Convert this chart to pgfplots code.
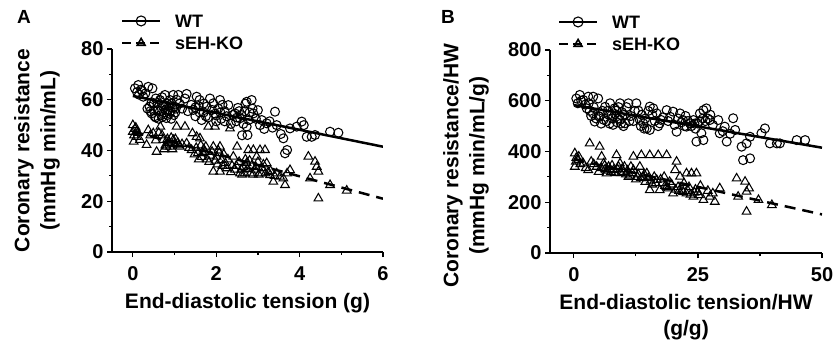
\documentclass[border=0pt]{standalone}
\usepackage{fontspec}
\setmainfont{Liberation Sans}
\usepackage{pgfplots}
\pgfplotsset{compat=1.18}
\pgfplotsset{
  panel/.style={
    scale only axis, height=203pt,
    axis lines=left, axis line style={-, line width=1.2pt},
    tick align=outside, major tick length=5pt, minor tick length=3pt,
    tick style={line width=1.2pt, black},
    tick label style={font=\fontsize{20}{20}\selectfont\bfseries},
    xticklabel style={yshift=-6pt},
    /pgf/number format/assume math mode=true,
    label style={font=\fontsize{21}{26}\selectfont\bfseries, align=center},
    legend style={draw=none, fill=none, inner sep=0pt, anchor=west,
      font=\fontsize{18}{18}\selectfont\bfseries,
      nodes={inner sep=0pt, text height=13pt, text depth=0pt},
      row sep=9pt,
      /tikz/every odd column/.append style={column sep=14pt}},
    legend cell align=left,
    legend image code/.code={
      \draw[##1, mark=none] (0pt,0pt) -- (38pt,0pt);
      \draw[##1, solid] plot coordinates {(19pt,0pt)};
    },
  },
  wt/.style={only marks, mark=o, mark size=4.5pt, mark options={line width=1.05pt, black}},
  ko/.style={only marks, mark=triangle, mark size=5pt, mark options={line width=1.05pt, black}},
}
\begin{document}
\begin{tikzpicture}
\useasboundingbox (0,0) rectangle (833pt,343pt);
\node[font=\fontsize{19}{19}\selectfont\bfseries] at (24pt,326pt) {A};
\node[font=\fontsize{19}{19}\selectfont\bfseries] at (448pt,326pt) {B};

\begin{axis}[panel, at={(112pt,91pt)}, anchor=south west, width=271pt,
  xmin=-0.5, xmax=6, ymin=0, ymax=80,
  xtick={0,2,4,6}, minor xtick={1,3,5},
  ytick={0,20,40,60,80}, minor ytick={10,30,50,70},
  xlabel={End-diastolic tension (g)},
  ylabel={Coronary resistance\\(mmHg min/mL)},
  xlabel style={at={(axis description cs:0.5,-0.187)}, anchor=north},
  ylabel style={at={(axis description cs:-0.277,0.5)}, anchor=center},
  legend style={at={(axis description cs:0.033,1.084)}},
]
\addlegendimage{black, line width=2pt, mark=o, mark size=5pt, mark options={line width=1.1pt, fill=white}}
\addlegendentry{WT}
\addlegendimage{black, line width=2pt, dash pattern=on 9pt off 5pt, mark=triangle, mark size=4.5pt, mark options={line width=1.6pt, fill=white}}
\addlegendentry{sEH-KO}
\addplot[wt, forget plot] table {
x y
0.05 64.5
0.10 63.0
0.13 65.8
0.15 62.0
0.20 64.0
0.22 63.5
0.25 61.2
0.30 62.5
0.35 56.5
0.37 65.1
0.40 57.3
0.42 55.5
0.45 54.6
0.45 59.0
0.47 64.5
0.50 58.5
0.50 55.8
0.52 53.5
0.55 60.5
0.55 53.0
0.60 56.0
0.60 58.8
0.62 52.5
0.65 59.9
0.65 55.5
0.68 54.0
0.70 61.0
0.70 53.2
0.72 57.5
0.75 55.0
0.75 58.0
0.77 61.9
0.78 56.0
0.80 52.8
0.82 58.5
0.83 54.0
0.85 56.0
0.87 57.8
0.88 54.5
0.89 59.9
0.90 55.5
0.92 52.5
0.93 58.5
0.95 57.0
0.97 61.9
0.98 54.0
1.00 57.3
1.02 55.0
1.03 56.5
1.05 60.0
1.09 61.9
1.12 58.5
1.18 56.5
1.25 60.5
1.29 62.3
1.32 55.5
1.40 58.0
1.45 56.0
1.50 53.5
1.50 57.0
1.53 61.2
1.58 57.5
1.60 59.9
1.60 55.0
1.65 52.0
1.70 55.0
1.70 58.5
1.75 53.5
1.77 57.3
1.80 53.0
1.85 60.5
1.90 56.0
1.93 58.6
1.97 54.5
2.00 51.5
2.00 53.8
2.05 56.5
2.09 59.9
2.10 55.0
2.12 52.5
2.15 58.0
2.20 55.5
2.20 51.5
2.25 53.5
2.29 57.9
2.35 50.5
2.40 54.0
2.45 54.6
2.48 51.5
2.50 53.0
2.52 56.8
2.55 55.5
2.57 52.7
2.60 54.0
2.62 46.0
2.65 50.5
2.68 55.5
2.70 58.5
2.73 59.2
2.73 49.4
2.75 46.1
2.78 52.0
2.80 55.0
2.85 59.9
2.87 56.5
2.89 54.6
2.95 52.5
3.00 55.9
3.05 50.0
3.09 52.0
3.15 48.5
3.21 50.7
3.28 51.5
3.35 49.0
3.41 55.3
3.45 50.0
3.55 46.5
3.61 44.8
3.65 38.9
3.70 40.2
3.77 48.7
3.93 49.4
4.05 51.4
4.10 50.0
4.17 45.4
4.29 45.4
4.37 46.1
4.73 47.4
4.93 47.0
};
\addplot[ko, forget plot] table {
x y
0.00 50.0
0.00 47.4
0.02 43.5
0.03 46.0
0.05 48.5
0.07 49.0
0.09 45.4
0.10 47.5
0.12 47.0
0.17 44.2
0.33 42.2
0.37 48.0
0.42 46.0
0.49 46.8
0.55 44.0
0.57 39.5
0.62 47.0
0.66 49.4
0.70 46.0
0.73 44.2
0.75 40.5
0.78 42.0
0.81 41.5
0.83 44.5
0.85 43.5
0.88 43.0
0.89 41.5
0.92 45.0
0.95 40.5
0.97 44.2
1.00 42.5
1.02 44.5
1.05 49.4
1.08 43.0
1.10 42.0
1.13 41.5
1.18 42.5
1.25 49.4
1.29 42.8
1.35 41.0
1.41 40.2
1.43 46.8
1.48 38.5
1.52 41.0
1.53 45.4
1.56 39.0
1.58 36.5
1.61 44.8
1.63 42.0
1.65 37.5
1.68 39.0
1.70 40.5
1.73 39.5
1.75 41.5
1.78 36.5
1.81 49.4
1.83 35.5
1.86 38.0
1.90 39.5
1.93 41.5
1.93 31.7
1.97 49.4
1.98 36.0
2.01 37.6
2.03 34.5
2.05 40.0
2.07 39.0
2.09 41.5
2.09 31.7
2.13 36.2
2.15 34.0
2.18 38.5
2.22 35.0
2.25 33.0
2.28 36.5
2.33 48.7
2.35 31.5
2.38 34.0
2.41 37.6
2.45 32.5
2.48 34.0
2.50 41.5
2.55 35.5
2.57 31.0
2.60 32.5
2.62 30.5
2.65 33.6
2.68 31.0
2.70 36.5
2.73 35.0
2.75 32.8
2.77 40.2
2.80 36.0
2.82 31.0
2.85 34.0
2.88 30.5
2.89 40.2
2.93 32.5
2.95 33.5
2.97 37.6
3.00 35.5
3.02 30.5
3.05 40.2
3.09 31.0
3.10 33.0
3.13 34.5
3.17 40.2
3.18 31.0
3.21 35.0
3.25 31.5
3.29 30.3
3.30 32.0
3.37 27.7
3.40 30.0
3.45 31.0
3.53 29.7
3.61 29.0
3.65 26.4
3.70 31.0
3.77 32.3
4.21 37.6
4.25 29.0
4.37 35.6
4.41 33.6
4.45 31.7
4.45 21.1
4.73 26.4
5.13 24.2
};
\addplot[black, line width=2.5pt, no marks, forget plot] coordinates {(0,61.5) (6,41.5)};
\addplot[black, line width=2.5pt, no marks, dash pattern=on 11pt off 7pt, forget plot] coordinates {(0,47.5) (6,21)};
\end{axis}

\begin{axis}[panel, at={(550pt,90pt)}, anchor=south west, width=272pt,
  xmin=-4.8, xmax=50, ymin=0, ymax=800,
  xtick={0,25,50}, minor xtick={12.5,37.5},
  ytick={0,200,400,600,800}, minor ytick={100,300,500,700},
  xlabel={End-diastolic tension/HW\\(g/g)},
  ylabel={Coronary resistance/HW\\(mmHg min/mL/g)},
  xlabel style={at={(axis description cs:0.5,-0.187)}, anchor=north},
  ylabel style={at={(axis description cs:-0.309,0.43)}, anchor=center},
  legend style={at={(axis description cs:0.029,1.084)}},
]
\addlegendimage{black, line width=2pt, mark=o, mark size=5pt, mark options={line width=1.1pt, fill=white}}
\addlegendentry{WT}
\addlegendimage{black, line width=2pt, dash pattern=on 9pt off 5pt, mark=triangle, mark size=4.5pt, mark options={line width=1.6pt, fill=white}}
\addlegendentry{sEH-KO}
\addplot[wt, forget plot] table {
x y
0.5 609
0.8 590
1.2 623
1.5 600
1.9 603
2.3 585
2.6 570
2.9 616
3.0 590
3.2 560
3.5 540
3.9 616
3.9 550
4.0 575
4.2 518
4.5 530
4.9 609
5.0 540
5.2 537
5.5 510
5.8 560
6.0 525
6.3 576
6.6 520
6.8 560
7.0 545
7.2 510
7.3 590
7.6 544
7.8 530
7.9 505
8.2 570
8.3 548
8.6 561
8.7 515
8.9 530
9.0 575
9.3 524
9.3 590
9.5 510
9.7 555
10.0 500
10.2 545
10.3 511
10.6 575
11.0 590
11.2 520
11.5 540
12.0 520
12.3 560
12.6 590
13.0 561
13.3 524
13.5 500
13.7 545
14.0 511
14.2 490
14.4 530
14.7 491
15.0 560
15.3 485
15.3 577
15.8 545
16.0 570
16.3 520
16.7 550
17.0 500
17.3 511
17.5 525
18.0 535
18.7 563
19.0 520
19.4 537
20.0 557
20.3 505
20.7 478
21.0 530
21.4 550
21.7 515
22.0 524
22.3 500
22.5 540
22.7 498
23.0 520
23.4 511
23.7 500
24.1 524
24.3 510
24.5 490
24.7 439
25.0 510
25.3 520
25.4 550
25.7 472
26.0 530
26.1 563
26.1 445
26.5 520
26.7 570
27.0 530
27.4 524
27.5 545
28.0 505
29.1 524
29.4 472
30.0 480
30.4 498
30.8 439
31.5 470
32.1 531
32.5 485
33.8 419
34.1 366
34.8 432
35.5 373
35.5 458
37.8 472
38.5 491
39.5 432
40.9 432
41.5 432
44.9 445
46.6 445
};
\addplot[ko, forget plot] table {
x y
0.2 393
0.2 340
0.4 360
0.5 375
0.9 366
1.0 380
1.3 350
1.9 353
2.4 335
2.9 327
3.2 432
3.5 360
4.0 350
4.6 340
5.0 320
5.2 419
5.5 335
5.6 380
6.0 353
6.2 345
6.3 330
6.6 314
6.8 325
7.0 340
7.3 330
7.5 320
7.7 345
8.0 327
8.3 315
8.6 386
8.8 330
9.0 340
9.3 353
9.5 315
9.7 330
10.0 320
10.2 340
10.5 310
10.8 325
11.0 300
11.3 305
11.5 340
11.8 315
12.0 380
12.0 327
12.5 290
12.8 300
13.0 310
13.3 340
13.5 295
13.6 386
14.0 300
14.2 310
14.4 280
14.7 314
15.0 295
15.3 386
15.3 248
15.5 285
15.8 270
16.2 300
16.5 275
16.7 288
17.0 386
17.3 248
17.5 290
17.8 275
18.2 300
18.4 265
18.7 386
18.7 261
19.0 255
19.3 280
19.7 270
20.0 235
20.4 327
20.5 250
20.7 360
21.0 260
21.2 245
21.4 301
21.8 250
22.0 240
22.2 275
22.7 314
22.7 235
23.0 245
23.2 260
23.5 230
23.7 314
24.1 222
24.3 238
24.5 250
24.7 314
25.0 240
25.2 228
25.5 265
26.1 209
27.0 245
27.4 222
28.0 235
28.4 202
29.4 255
32.8 294
33.1 222
34.5 281
34.8 242
34.8 163
35.3 255
37.2 209
39.9 189
};
\addplot[black, line width=2.5pt, no marks, forget plot] coordinates {(0,583) (50,415)};
\addplot[black, line width=2.5pt, no marks, dash pattern=on 11pt off 7pt, forget plot] coordinates {(0,369) (50,152)};
\end{axis}
\end{tikzpicture}
\end{document}
